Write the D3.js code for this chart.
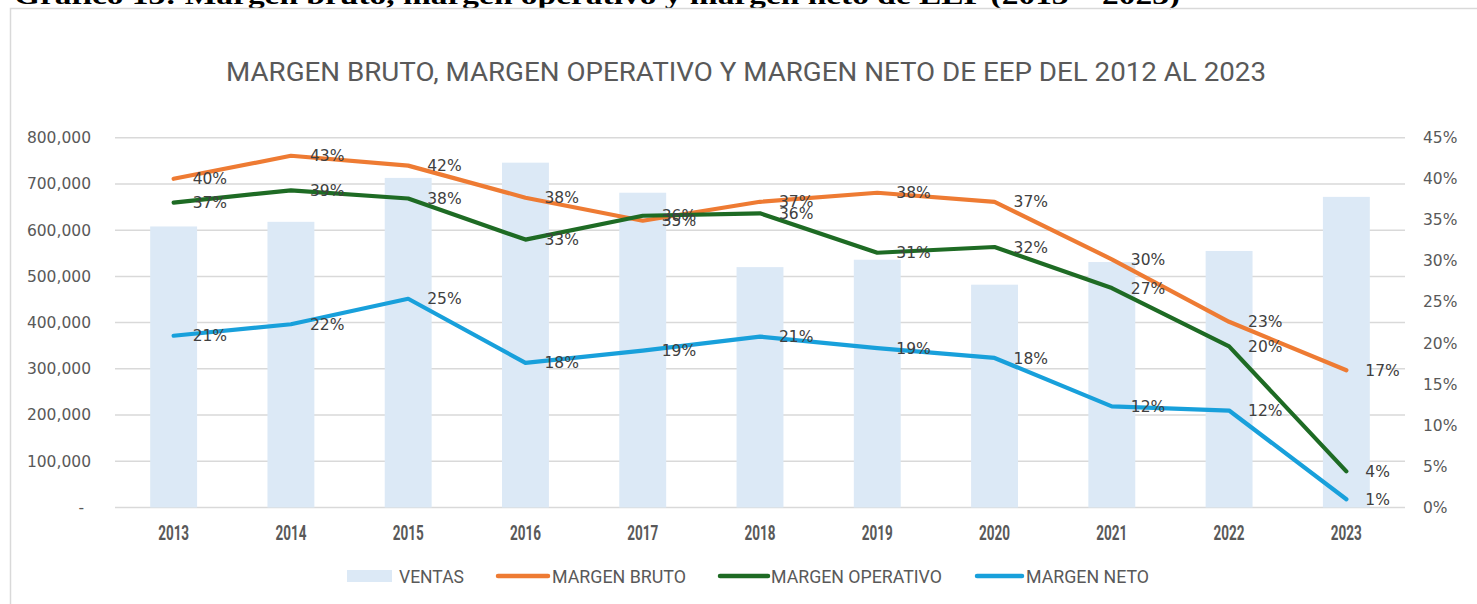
<!DOCTYPE html>
<html>
<head>
<meta charset="utf-8">
<script src="https://cdn.jsdelivr.net/npm/d3@7"></script>
<style>
  html, body { margin: 0; padding: 0; background: #fff; }
  svg { display: block; }
</style>
</head>
<body>
<svg id="chart" width="1477" height="604"></svg>
<script>
// ---- data ----
const years = ["2013","2014","2015","2016","2017","2018","2019","2020","2021","2022","2023"];
const ventas = [608000, 618000, 713000, 746000, 681000, 520000, 536000, 482000, 531000, 555000, 672000];
const margenBruto = [40.0, 42.8, 41.6, 37.7, 34.9, 37.2, 38.3, 37.2, 30.2, 22.6, 16.7];
const margenOperativo = [37.1, 38.6, 37.6, 32.6, 35.5, 35.8, 31.0, 31.7, 26.7, 19.6, 4.4];
const margenNeto = [20.9, 22.3, 25.4, 17.6, 19.1, 20.8, 19.4, 18.2, 12.3, 11.8, 1.0];
const leftTicks = [0, 100000, 200000, 300000, 400000, 500000, 600000, 700000, 800000];
const rightTicks = [0, 5, 10, 15, 20, 25, 30, 35, 40, 45];
const seriesNames = ["VENTAS", "MARGEN BRUTO", "MARGEN OPERATIVO", "MARGEN NETO"];
const chartTitle = "MARGEN BRUTO, MARGEN OPERATIVO Y MARGEN NETO DE EEP DEL 2012 AL 2023";
const caption = "Gráfico 13: Margen bruto, margen operativo y margen neto de EEP (2013 – 2023)";

// ---- layout ----
const svg = d3.select("#chart");
const plot = { left: 115, right: 1405, top: 137.7, bottom: 507.5 };
const colors = { ventas: "#dce9f6", bruto: "#ee7b33", operativo: "#1e6b24", neto: "#18a0db" };
const textGray = "#595959";

const x = d3.scaleBand().domain(years).range([plot.left, plot.right]).padding(0);
const cx = d => x(d) + x.bandwidth() / 2;
const barW = x.bandwidth() * 0.40;
const yL = d3.scaleLinear().domain([0, 800000]).range([plot.bottom, plot.top]);
const yR = d3.scaleLinear().domain([0, 45]).range([plot.bottom, plot.top]);

// caption (clipped at top)
svg.append("text")
  .attr("x", 14).attr("y", 4)
  .attr("font-family", "Liberation Serif, serif")
  .attr("font-weight", "bold")
  .attr("font-size", 25)
  .attr("fill", "#000")
  .attr("textLength", 1166).attr("lengthAdjust", "spacingAndGlyphs")
  .text(caption);

// frame (left and top edges visible)
svg.append("path")
  .attr("d", "M10.5,620 L10.5,8.5 L1490,8.5")
  .attr("fill", "none").attr("stroke", "#d9d9d9").attr("stroke-width", 1.5);

// title
svg.append("text")
  .attr("x", 746).attr("y", 81)
  .attr("text-anchor", "middle")
  .attr("font-family", "Roboto, sans-serif")
  .attr("font-size", 26)
  .attr("fill", textGray)
  .attr("textLength", 1040).attr("lengthAdjust", "spacingAndGlyphs")
  .text(chartTitle);

// gridlines
svg.append("g").selectAll("line").data(leftTicks).join("line")
  .attr("x1", plot.left).attr("x2", plot.right)
  .attr("y1", d => yL(d)).attr("y2", d => yL(d))
  .attr("stroke", "#d9d9d9").attr("stroke-width", 1.5);

// left axis labels
const fmtL = d3.format(",.0f");
svg.append("g").selectAll("text").data(leftTicks).join("text")
  .attr("x", d => d === 0 ? 84 : 91)
  .attr("y", d => yL(d))
  .attr("dy", "0.35em")
  .attr("text-anchor", "end")
  .attr("font-family", "DejaVu Sans, sans-serif")
  .attr("font-size", 15.5)
  .attr("fill", textGray)
  .text(d => d === 0 ? "-" : fmtL(d));

// right axis labels
svg.append("g").selectAll("text").data(rightTicks).join("text")
  .attr("x", 1423)
  .attr("y", d => yR(d))
  .attr("dy", "0.35em")
  .attr("font-family", "DejaVu Sans, sans-serif")
  .attr("font-size", 15.5)
  .attr("fill", textGray)
  .text(d => d + "%");

// bars
svg.append("g").selectAll("rect").data(years).join("rect")
  .attr("x", (d) => cx(d) - barW / 2)
  .attr("width", barW)
  .attr("y", (d, i) => yL(ventas[i]))
  .attr("height", (d, i) => yL(0) - yL(ventas[i]))
  .attr("fill", colors.ventas);

// x labels
svg.append("g").selectAll("text").data(years).join("text")
  .attr("x", d => cx(d))
  .attr("y", 540)
  .attr("text-anchor", "middle")
  .attr("font-family", "Roboto, sans-serif")
  .attr("font-weight", "bold")
  .attr("font-size", 21)
  .attr("fill", textGray)
  .attr("textLength", 31).attr("lengthAdjust", "spacingAndGlyphs")
  .text(d => d);

// lines
const line = d3.line().x(d => cx(d.year)).y(d => yR(d.v));
const lineSeries = [
  { vals: margenBruto, color: colors.bruto },
  { vals: margenOperativo, color: colors.operativo },
  { vals: margenNeto, color: colors.neto }
];
lineSeries.forEach(s => {
  const pts = years.map((y, i) => ({ year: y, v: s.vals[i] }));
  svg.append("path")
    .datum(pts)
    .attr("d", line)
    .attr("fill", "none")
    .attr("stroke", s.color)
    .attr("stroke-width", 4.2)
    .attr("stroke-linecap", "round")
    .attr("stroke-linejoin", "round");
});

// data labels
const fmtP = v => Math.round(v) + "%";
lineSeries.forEach(s => {
  svg.append("g").selectAll("text").data(years).join("text")
    .attr("x", d => cx(d) + 19)
    .attr("y", (d, i) => yR(s.vals[i]))
    .attr("dy", "0.36em")
    .attr("font-family", "DejaVu Sans, sans-serif")
    .attr("font-size", 15.5)
    .attr("fill", "#404040")
    .text((d, i) => fmtP(s.vals[i]));
});

// legend
const legY = 576;
const lg = svg.append("g");
const legendItems = [
  { name: seriesNames[0], type: "rect", color: colors.ventas, sx: 347, sw: 45, tx: 399, tw: 65 },
  { name: seriesNames[1], type: "line", color: colors.bruto, sx: 498, sw: 50, tx: 552, tw: 134 },
  { name: seriesNames[2], type: "line", color: colors.operativo, sx: 720, sw: 48, tx: 771, tw: 171 },
  { name: seriesNames[3], type: "line", color: colors.neto, sx: 977, sw: 45, tx: 1026, tw: 123 }
];
legendItems.forEach(it => {
  if (it.type === "rect") {
    lg.append("rect").attr("x", it.sx).attr("y", legY - 6).attr("width", it.sw).attr("height", 12).attr("fill", it.color);
  } else {
    lg.append("line").attr("x1", it.sx).attr("x2", it.sx + it.sw).attr("y1", legY).attr("y2", legY)
      .attr("stroke", it.color).attr("stroke-width", 4.5).attr("stroke-linecap", "round");
  }
  lg.append("text")
    .attr("x", it.tx).attr("y", legY + 7)
    .attr("font-family", "Roboto, sans-serif")
    .attr("font-size", 18)
    .attr("fill", textGray)
    .attr("textLength", it.tw).attr("lengthAdjust", "spacingAndGlyphs")
    .text(it.name);
});
</script>
</body>
</html>
